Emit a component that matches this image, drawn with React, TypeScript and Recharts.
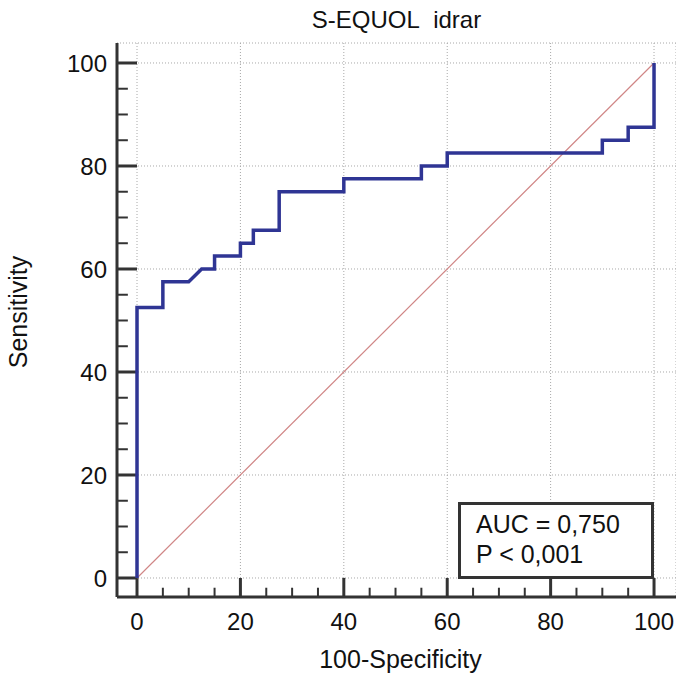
import { LineChart, Line, XAxis, YAxis, CartesianGrid, ReferenceLine, Label } from 'recharts';

// ROC curve points (100-Specificity, Sensitivity)
const fpr = [0, 0, 5, 5, 10, 12.5, 15, 15, 20, 20, 22.5, 22.5, 27.5, 27.5, 40, 40, 55, 55, 60, 60, 90, 90, 95, 95, 100, 100];
const sensitivity = [0, 52.5, 52.5, 57.5, 57.5, 60, 60, 62.5, 62.5, 65, 65, 67.5, 67.5, 75, 75, 77.5, 77.5, 80, 80, 82.5, 82.5, 85, 85, 87.5, 87.5, 100];

// chance diagonal
const diagX = [0, 100];
const diagY = [0, 100];

const majorTicks = [0, 20, 40, 60, 80, 100];
const minorTicks = [5, 10, 15, 25, 30, 35, 45, 50, 55, 65, 70, 75, 85, 90, 95];

const title = 'S-EQUOL\u00A0 idrar';
const xTitle = '100-Specificity';
const yTitle = 'Sensitivity';
const aucText = 'AUC = 0,750';
const pText = 'P < 0,001';

const rocData = fpr.map((x, i) => ({ x, y: sensitivity[i] }));
const diagData = diagX.map((x, i) => ({ x, y: diagY[i] }));

// axes sit a little away from the data range, like the original
const X_DOMAIN: [number, number] = [-3.87, 104.25];
const Y_DOMAIN: [number, number] = [-3.69, 103.88];
const X_MINOR_END = X_DOMAIN[0] + 2.1;
const Y_MINOR_END = Y_DOMAIN[0] + 1.8;

const FONT = '"Liberation Sans", Arial, sans-serif';
const AXIS = '#333333';

const YTitle = ({ viewBox }: any) => {
  const cx = viewBox.x + 27;
  const cy = viewBox.y + viewBox.height / 2 - 8;
  return (
    <text x={cx} y={cy} transform={`rotate(-90 ${cx} ${cy})`} textAnchor="middle"
      fontSize={25} fontFamily={FONT} fill="#111">
      {yTitle}
    </text>
  );
};

const XTitle = ({ viewBox }: any) => (
  <text x={viewBox.x + viewBox.width / 2 + 4} y={viewBox.y + 71} textAnchor="middle"
    fontSize={25} fontFamily={FONT} fill="#111">
    {xTitle}
  </text>
);

export default function App() {
  return (
    <div style={{ position: 'absolute', left: 0, top: 0, width: 676, height: 679, background: '#fff', fontFamily: FONT }}>
      <div style={{ position: 'absolute', left: 117, top: 8, width: 559, textAlign: 'center', fontSize: 24, lineHeight: '24px', color: '#111' }}>
        {title}
      </div>
      <LineChart width={676} height={679} margin={{ top: 43, right: 0, left: 0, bottom: 0 }}>
        <CartesianGrid stroke="#a8a8a8" strokeDasharray="1 2" strokeWidth={1} />
        <XAxis
          type="number"
          dataKey="x"
          domain={X_DOMAIN}
          ticks={majorTicks}
          allowDataOverflow
          height={82}
          tickLine={false}
          tickSize={0}
          tickMargin={16}
          axisLine={{ stroke: AXIS, strokeWidth: 3 }}
          tick={{ fontSize: 24, fill: '#111', fontFamily: FONT }}
        >
          <Label content={<XTitle />} />
        </XAxis>
        <YAxis
          type="number"
          dataKey="y"
          domain={Y_DOMAIN}
          ticks={majorTicks}
          allowDataOverflow
          width={117}
          tickLine={false}
          tickSize={0}
          tickMargin={10}
          axisLine={{ stroke: AXIS, strokeWidth: 3 }}
          tick={{ fontSize: 24, fill: '#111', fontFamily: FONT }}
        >
          <Label content={<YTitle />} />
        </YAxis>

        {/* inward tick marks */}
        {majorTicks.map((t) => (
          <ReferenceLine key={`ym${t}`} segment={[{ x: X_DOMAIN[0], y: t }, { x: 0, y: t }]} stroke={AXIS} strokeWidth={3} />
        ))}
        {minorTicks.map((t) => (
          <ReferenceLine key={`yn${t}`} segment={[{ x: X_DOMAIN[0], y: t }, { x: X_MINOR_END, y: t }]} stroke={AXIS} strokeWidth={2} />
        ))}
        {majorTicks.map((t) => (
          <ReferenceLine key={`xm${t}`} segment={[{ x: t, y: Y_DOMAIN[0] }, { x: t, y: 0 }]} stroke={AXIS} strokeWidth={3} />
        ))}
        {minorTicks.map((t) => (
          <ReferenceLine key={`xn${t}`} segment={[{ x: t, y: Y_DOMAIN[0] }, { x: t, y: Y_MINOR_END }]} stroke={AXIS} strokeWidth={2} />
        ))}

        <Line data={diagData} dataKey="y" type="linear" stroke="#d08686" strokeWidth={1.2} dot={false} isAnimationActive={false} />
        <Line data={rocData} dataKey="y" type="linear" stroke="#2f3594" strokeWidth={3.5} dot={false} isAnimationActive={false} />
      </LineChart>
      <div style={{
        position: 'absolute', left: 458, top: 502, width: 196, height: 77, boxSizing: 'border-box',
        border: `3px solid ${AXIS}`, background: '#fff', padding: '4px 0 0 15px',
        fontSize: 25, lineHeight: '30px', color: '#111',
      }}>
        <div>{aucText}</div>
        <div>{pText}</div>
      </div>
    </div>
  );
}
